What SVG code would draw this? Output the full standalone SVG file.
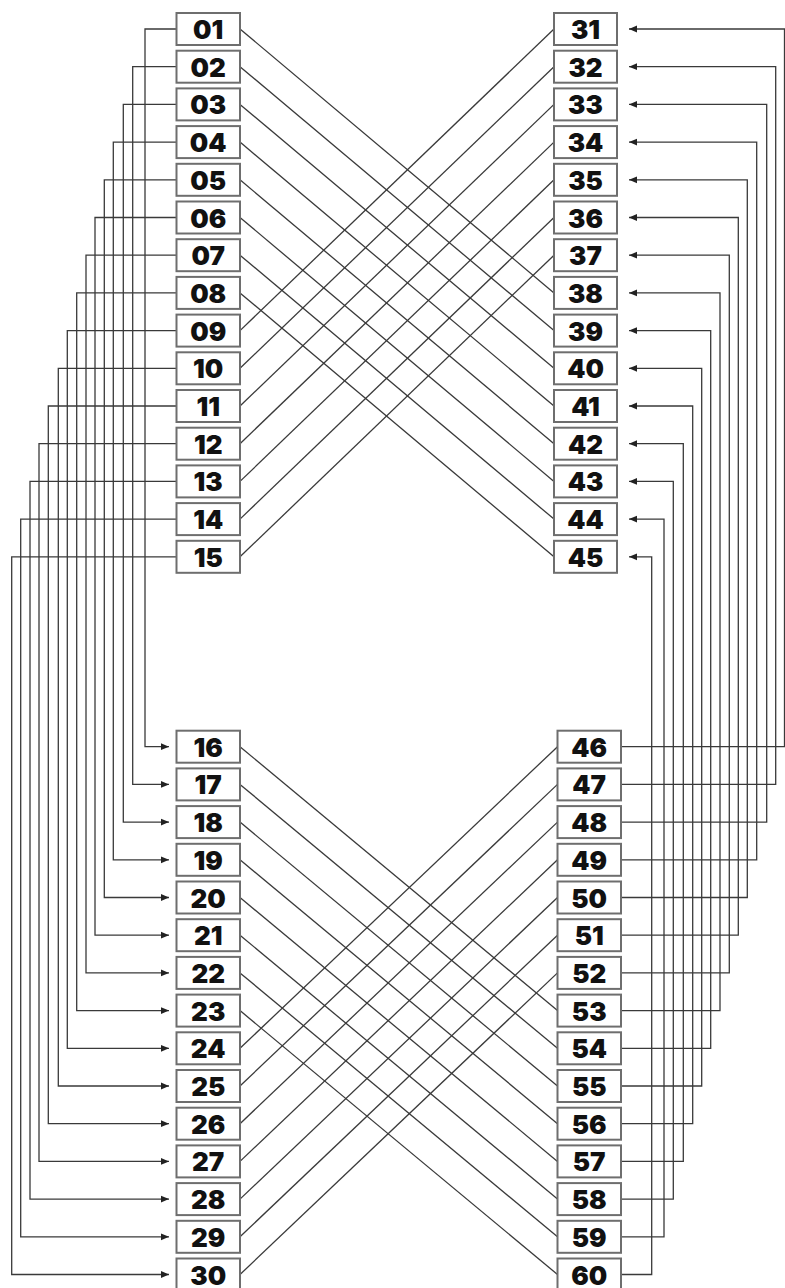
<svg xmlns="http://www.w3.org/2000/svg" width="785" height="1288" viewBox="0 0 785 1288">
<style>
.b{fill:#fff;stroke:#6e6e6e;stroke-width:2}
.t{font-family:"Inter","DejaVu Sans",sans-serif;font-weight:900;font-size:26px;fill:#111;text-anchor:middle;dominant-baseline:central}
.c{fill:none;stroke:#3a3a3a;stroke-width:1.3}
.a{marker-end:url(#ar)}
</style>
<defs>
<marker id="ar" markerUnits="userSpaceOnUse" markerWidth="8" markerHeight="8" viewBox="0 0 8 8" refX="8" refY="4" orient="auto"><path d="M0,0.6 L8,4 L0,7.4 Z" fill="#222"/></marker>
</defs>
<g id="connectors">
<path class="c a" d="M176.5 29 H145 V746.7 H169"/>
<path class="c a" d="M176.5 66.7 H132.7 V784.4 H169"/>
<path class="c a" d="M176.5 104.4 H123.3 V822.1 H169"/>
<path class="c a" d="M176.5 142.1 H113.3 V859.8 H169"/>
<path class="c a" d="M176.5 179.8 H104.3 V897.5 H169"/>
<path class="c a" d="M176.5 217.5 H95 V935.2 H169"/>
<path class="c a" d="M176.5 255.2 H86 V972.9 H169"/>
<path class="c a" d="M176.5 292.9 H76.7 V1010.6 H169"/>
<path class="c a" d="M176.5 330.6 H67.3 V1048.3 H169"/>
<path class="c a" d="M176.5 368.3 H58.3 V1086 H169"/>
<path class="c a" d="M176.5 406 H48.3 V1123.7 H169"/>
<path class="c a" d="M176.5 443.7 H39 V1161.4 H169"/>
<path class="c a" d="M176.5 481.4 H30 V1199.1 H169"/>
<path class="c a" d="M176.5 519.1 H20.7 V1236.8 H169"/>
<path class="c a" d="M176.5 556.8 H11.7 V1274.5 H169"/>
<path class="c a" d="M621 746.7 H784.5 V29 H629"/>
<path class="c a" d="M621 784.4 H775.7 V66.7 H629"/>
<path class="c a" d="M621 822.1 H766.7 V104.4 H629"/>
<path class="c a" d="M621 859.8 H756.7 V142.1 H629"/>
<path class="c a" d="M621 897.5 H747.3 V179.8 H629"/>
<path class="c a" d="M621 935.2 H738.3 V217.5 H629"/>
<path class="c a" d="M621 972.9 H729.3 V255.2 H629"/>
<path class="c a" d="M621 1010.6 H720 V292.9 H629"/>
<path class="c a" d="M621 1048.3 H710.7 V330.6 H629"/>
<path class="c a" d="M621 1086 H701.7 V368.3 H629"/>
<path class="c a" d="M621 1123.7 H692.7 V406 H629"/>
<path class="c a" d="M621 1161.4 H683.3 V443.7 H629"/>
<path class="c a" d="M621 1199.1 H673.3 V481.4 H629"/>
<path class="c a" d="M621 1236.8 H664 V519.1 H629"/>
<path class="c a" d="M621 1274.5 H651.7 V556.8 H629"/>
<path class="c" d="M240 29 L554 292.9"/>
<path class="c" d="M240 66.7 L554 330.6"/>
<path class="c" d="M240 104.4 L554 368.3"/>
<path class="c" d="M240 142.1 L554 406"/>
<path class="c" d="M240 179.8 L554 443.7"/>
<path class="c" d="M240 217.5 L554 481.4"/>
<path class="c" d="M240 255.2 L554 519.1"/>
<path class="c" d="M240 292.9 L554 556.8"/>
<path class="c" d="M240 330.6 L554 29"/>
<path class="c" d="M240 368.3 L554 66.7"/>
<path class="c" d="M240 406 L554 104.4"/>
<path class="c" d="M240 443.7 L554 142.1"/>
<path class="c" d="M240 481.4 L554 179.8"/>
<path class="c" d="M240 519.1 L554 217.5"/>
<path class="c" d="M240 556.8 L554 255.2"/>
<path class="c" d="M240 746.7 L557.5 1010.6"/>
<path class="c" d="M240 784.4 L557.5 1048.3"/>
<path class="c" d="M240 822.1 L557.5 1086"/>
<path class="c" d="M240 859.8 L557.5 1123.7"/>
<path class="c" d="M240 897.5 L557.5 1161.4"/>
<path class="c" d="M240 935.2 L557.5 1199.1"/>
<path class="c" d="M240 972.9 L557.5 1236.8"/>
<path class="c" d="M240 1010.6 L557.5 1274.5"/>
<path class="c" d="M240 1048.3 L557.5 746.7"/>
<path class="c" d="M240 1086 L557.5 784.4"/>
<path class="c" d="M240 1123.7 L557.5 822.1"/>
<path class="c" d="M240 1161.4 L557.5 859.8"/>
<path class="c" d="M240 1199.1 L557.5 897.5"/>
<path class="c" d="M240 1236.8 L557.5 935.2"/>
<path class="c" d="M240 1274.5 L557.5 972.9"/>
</g>
<g id="n01"><rect class="b" x="176.5" y="13" width="63.5" height="32"/><text class="t" x="208.2" y="29.5">01</text></g>
<g id="n02"><rect class="b" x="176.5" y="50.7" width="63.5" height="32"/><text class="t" x="208.2" y="67.2">02</text></g>
<g id="n03"><rect class="b" x="176.5" y="88.4" width="63.5" height="32"/><text class="t" x="208.2" y="104.9">03</text></g>
<g id="n04"><rect class="b" x="176.5" y="126.1" width="63.5" height="32"/><text class="t" x="208.2" y="142.6">04</text></g>
<g id="n05"><rect class="b" x="176.5" y="163.8" width="63.5" height="32"/><text class="t" x="208.2" y="180.3">05</text></g>
<g id="n06"><rect class="b" x="176.5" y="201.5" width="63.5" height="32"/><text class="t" x="208.2" y="218">06</text></g>
<g id="n07"><rect class="b" x="176.5" y="239.2" width="63.5" height="32"/><text class="t" x="208.2" y="255.7">07</text></g>
<g id="n08"><rect class="b" x="176.5" y="276.9" width="63.5" height="32"/><text class="t" x="208.2" y="293.4">08</text></g>
<g id="n09"><rect class="b" x="176.5" y="314.6" width="63.5" height="32"/><text class="t" x="208.2" y="331.1">09</text></g>
<g id="n10"><rect class="b" x="176.5" y="352.3" width="63.5" height="32"/><text class="t" x="208.2" y="368.8">10</text></g>
<g id="n11"><rect class="b" x="176.5" y="390" width="63.5" height="32"/><text class="t" x="208.2" y="406.5">11</text></g>
<g id="n12"><rect class="b" x="176.5" y="427.7" width="63.5" height="32"/><text class="t" x="208.2" y="444.2">12</text></g>
<g id="n13"><rect class="b" x="176.5" y="465.4" width="63.5" height="32"/><text class="t" x="208.2" y="481.9">13</text></g>
<g id="n14"><rect class="b" x="176.5" y="503.1" width="63.5" height="32"/><text class="t" x="208.2" y="519.6">14</text></g>
<g id="n15"><rect class="b" x="176.5" y="540.8" width="63.5" height="32"/><text class="t" x="208.2" y="557.3">15</text></g>
<g id="n16"><rect class="b" x="176.5" y="730.7" width="63.5" height="32"/><text class="t" x="208.2" y="747.2">16</text></g>
<g id="n17"><rect class="b" x="176.5" y="768.4" width="63.5" height="32"/><text class="t" x="208.2" y="784.9">17</text></g>
<g id="n18"><rect class="b" x="176.5" y="806.1" width="63.5" height="32"/><text class="t" x="208.2" y="822.6">18</text></g>
<g id="n19"><rect class="b" x="176.5" y="843.8" width="63.5" height="32"/><text class="t" x="208.2" y="860.3">19</text></g>
<g id="n20"><rect class="b" x="176.5" y="881.5" width="63.5" height="32"/><text class="t" x="208.2" y="898">20</text></g>
<g id="n21"><rect class="b" x="176.5" y="919.2" width="63.5" height="32"/><text class="t" x="208.2" y="935.7">21</text></g>
<g id="n22"><rect class="b" x="176.5" y="956.9" width="63.5" height="32"/><text class="t" x="208.2" y="973.4">22</text></g>
<g id="n23"><rect class="b" x="176.5" y="994.6" width="63.5" height="32"/><text class="t" x="208.2" y="1011.1">23</text></g>
<g id="n24"><rect class="b" x="176.5" y="1032.3" width="63.5" height="32"/><text class="t" x="208.2" y="1048.8">24</text></g>
<g id="n25"><rect class="b" x="176.5" y="1070" width="63.5" height="32"/><text class="t" x="208.2" y="1086.5">25</text></g>
<g id="n26"><rect class="b" x="176.5" y="1107.7" width="63.5" height="32"/><text class="t" x="208.2" y="1124.2">26</text></g>
<g id="n27"><rect class="b" x="176.5" y="1145.4" width="63.5" height="32"/><text class="t" x="208.2" y="1161.9">27</text></g>
<g id="n28"><rect class="b" x="176.5" y="1183.1" width="63.5" height="32"/><text class="t" x="208.2" y="1199.6">28</text></g>
<g id="n29"><rect class="b" x="176.5" y="1220.8" width="63.5" height="32"/><text class="t" x="208.2" y="1237.3">29</text></g>
<g id="n30"><rect class="b" x="176.5" y="1258.5" width="63.5" height="32"/><text class="t" x="208.2" y="1275">30</text></g>
<g id="n31"><rect class="b" x="554" y="13" width="63" height="32"/><text class="t" x="585.5" y="29.5">31</text></g>
<g id="n32"><rect class="b" x="554" y="50.7" width="63" height="32"/><text class="t" x="585.5" y="67.2">32</text></g>
<g id="n33"><rect class="b" x="554" y="88.4" width="63" height="32"/><text class="t" x="585.5" y="104.9">33</text></g>
<g id="n34"><rect class="b" x="554" y="126.1" width="63" height="32"/><text class="t" x="585.5" y="142.6">34</text></g>
<g id="n35"><rect class="b" x="554" y="163.8" width="63" height="32"/><text class="t" x="585.5" y="180.3">35</text></g>
<g id="n36"><rect class="b" x="554" y="201.5" width="63" height="32"/><text class="t" x="585.5" y="218">36</text></g>
<g id="n37"><rect class="b" x="554" y="239.2" width="63" height="32"/><text class="t" x="585.5" y="255.7">37</text></g>
<g id="n38"><rect class="b" x="554" y="276.9" width="63" height="32"/><text class="t" x="585.5" y="293.4">38</text></g>
<g id="n39"><rect class="b" x="554" y="314.6" width="63" height="32"/><text class="t" x="585.5" y="331.1">39</text></g>
<g id="n40"><rect class="b" x="554" y="352.3" width="63" height="32"/><text class="t" x="585.5" y="368.8">40</text></g>
<g id="n41"><rect class="b" x="554" y="390" width="63" height="32"/><text class="t" x="585.5" y="406.5">41</text></g>
<g id="n42"><rect class="b" x="554" y="427.7" width="63" height="32"/><text class="t" x="585.5" y="444.2">42</text></g>
<g id="n43"><rect class="b" x="554" y="465.4" width="63" height="32"/><text class="t" x="585.5" y="481.9">43</text></g>
<g id="n44"><rect class="b" x="554" y="503.1" width="63" height="32"/><text class="t" x="585.5" y="519.6">44</text></g>
<g id="n45"><rect class="b" x="554" y="540.8" width="63" height="32"/><text class="t" x="585.5" y="557.3">45</text></g>
<g id="n46"><rect class="b" x="557.5" y="730.7" width="63.5" height="32"/><text class="t" x="589.2" y="747.2">46</text></g>
<g id="n47"><rect class="b" x="557.5" y="768.4" width="63.5" height="32"/><text class="t" x="589.2" y="784.9">47</text></g>
<g id="n48"><rect class="b" x="557.5" y="806.1" width="63.5" height="32"/><text class="t" x="589.2" y="822.6">48</text></g>
<g id="n49"><rect class="b" x="557.5" y="843.8" width="63.5" height="32"/><text class="t" x="589.2" y="860.3">49</text></g>
<g id="n50"><rect class="b" x="557.5" y="881.5" width="63.5" height="32"/><text class="t" x="589.2" y="898">50</text></g>
<g id="n51"><rect class="b" x="557.5" y="919.2" width="63.5" height="32"/><text class="t" x="589.2" y="935.7">51</text></g>
<g id="n52"><rect class="b" x="557.5" y="956.9" width="63.5" height="32"/><text class="t" x="589.2" y="973.4">52</text></g>
<g id="n53"><rect class="b" x="557.5" y="994.6" width="63.5" height="32"/><text class="t" x="589.2" y="1011.1">53</text></g>
<g id="n54"><rect class="b" x="557.5" y="1032.3" width="63.5" height="32"/><text class="t" x="589.2" y="1048.8">54</text></g>
<g id="n55"><rect class="b" x="557.5" y="1070" width="63.5" height="32"/><text class="t" x="589.2" y="1086.5">55</text></g>
<g id="n56"><rect class="b" x="557.5" y="1107.7" width="63.5" height="32"/><text class="t" x="589.2" y="1124.2">56</text></g>
<g id="n57"><rect class="b" x="557.5" y="1145.4" width="63.5" height="32"/><text class="t" x="589.2" y="1161.9">57</text></g>
<g id="n58"><rect class="b" x="557.5" y="1183.1" width="63.5" height="32"/><text class="t" x="589.2" y="1199.6">58</text></g>
<g id="n59"><rect class="b" x="557.5" y="1220.8" width="63.5" height="32"/><text class="t" x="589.2" y="1237.3">59</text></g>
<g id="n60"><rect class="b" x="557.5" y="1258.5" width="63.5" height="32"/><text class="t" x="589.2" y="1275">60</text></g>
</svg>
